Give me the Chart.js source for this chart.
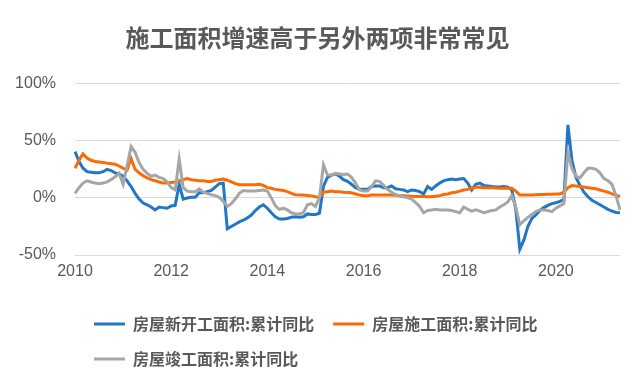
<!DOCTYPE html>
<html>
<head>
<meta charset="utf-8">
<script src="https://cdn.jsdelivr.net/npm/chart.js@4"></script>
<style>
  html, body { margin: 0; padding: 0; background: #ffffff; }
  canvas { display: block; }
</style>
</head>
<body>
<canvas id="c" width="640" height="384"></canvas>
<script>
// ---- Data ----
const titleText = '施工面积增速高于另外两项非常常见';
const seriesNames = ['房屋新开工面积:累计同比', '房屋施工面积:累计同比', '房屋竣工面积:累计同比'];
const yearTickLabels = ['2010', '2012', '2014', '2016', '2018', '2020'];

// monthly categories 2010-01 .. 2021-05
const months = [];
for (let y = 2010; y <= 2021; y++) {
  for (let m = 1; m <= 12; m++) {
    if (y === 2021 && m > 5) break;
    months.push(y + '-' + (m < 10 ? '0' + m : m));
  }
}

const newStarts = [
  40.6, 32, 26, 23, 22.5, 22, 22, 23, 25, 24, 22, 21,
  19, 15, 10, 4, -1, -4.5, -6, -8, -10.5, -8, -8.5, -9,
  -7, -6.5, 12, -1, 0, 0.6, 0.6, 4.5, 4.5, 5.5, 6.5, 9.5,
  12.5, 13, -27, -25, -23, -21, -19.5, -17.5, -15, -11, -8, -6,
  -9, -13, -16.5, -18.5, -18.5, -18, -17, -16.5, -17, -16.5, -14, -14.5,
  -14.5, -13.5, 10, 18, 20, 21, 19, 16, 14.5, 12, 9, 7.6,
  7.6, 7.6, 10, 10.5, 10.5, 9, 9, 10.5, 8, 7.5, 7, 5.5,
  7, 6.5, 5.5, 3.5, 10, 7.5, 10.5, 13, 15, 16, 16.5, 16,
  16.5, 17, 13, 7, 12, 13, 11, 10.5, 10, 9.5, 9.5, 10,
  9.5, 7, -10, -45, -37, -25, -18, -15, -11, -8.5, -6.5, -5,
  -4.2, -3, -1.5, 64, 33, 18, 11, 5, 1, -2, -4, -6,
  -8, -10, -11.5, -12.7, -13
];

const underConstruction = [
  26, 33, 38.5, 35, 33, 32, 31.5, 31, 30.5, 30, 29.5, 28,
  26, 24.5, 34.5, 25, 22, 19.5, 17.5, 16, 15, 14, 13, 13,
  13.5, 14, 14.5, 16, 17, 16, 15.5, 15, 15, 14.5, 14.5, 15.5,
  16, 16.5, 15.5, 14, 12.5, 11.5, 11.5, 11.5, 11.5, 11.5, 12, 11,
  9, 8.5, 7.5, 7, 6.5, 5.5, 4, 2.8, 2.6, 2.6, 2.2, 1.8,
  1, 0.5, 5, 5.5, 6, 5.5, 5.5, 5, 4.8, 4.5, 3.5, 2.5,
  2, 2, 2.5, 2.5, 2.5, 2.5, 2.5, 2.5, 2.3, 2, 2, 1.8,
  1.5, 1.3, 1.2, 1.2, 1, 1, 1.5, 2, 3, 3.5, 4.5, 5,
  6, 7, 7.5, 8.5, 9.3, 9.3, 9, 9, 9, 8.7, 8.5, 8.5,
  8.5, 8.5, 6, 2.6, 2.6, 2.6, 2.6, 2.8, 3, 3, 3.2, 3.3,
  3.4, 3.5, 5, 9, 10.8, 10.5, 10, 9.5, 9, 8.5, 8, 7,
  6, 5, 3.5, 2.5, 1.2
];

const completions = [
  4, 9, 13, 15, 14, 13, 12.5, 13, 14, 16, 18.5, 21.5,
  12, 28, 45, 40, 31, 25, 21.5, 19, 20, 18, 17, 14,
  9, 7, 34, 9, 6, 5.5, 5.5, 8, 5, 4, 2.8, 2,
  0.5, -3, -7.5, -5, -1, 4, 6.5, 6, 6, 6, 6.5, 7,
  6, 0, -7, -10, -9, -10.5, -13, -14, -14, -13, -6, -5,
  -7.5, 0, 29, 20, 20, 21.5, 21, 20.5, 21, 18, 13, 7,
  6, 6, 10, 15, 14.5, 11, 7.5, 5, 3, 1.8, 1, 0.3,
  -1, -4, -7.5, -13, -11, -10.5, -10, -10.5, -10.5, -10.5, -11, -12,
  -13, -8, -10, -11.5, -10.5, -11.5, -13, -12, -11, -10.5, -8, -6,
  -3.5, 2, -8, -23.5, -20, -17, -14.5, -12, -10.5, -10.5, -11, -12,
  -9, -7, -5, 40, 26, 19, 17.5, 22, 26, 26, 25, 22,
  17, 15, 12, 2, -10.5
];

const yTickValues = [-50, 0, 50, 100];

// ---- Styles ----
const colors = ['#1f77c6', '#fb6a05', '#a6a6a6'];
const textColor = '#595959';
const cjk = "'Noto Sans CJK SC', 'Noto Sans', sans-serif";
const latin = "'Liberation Sans', Arial, sans-serif";

const seriesData = [newStarts, underConstruction, completions];
const datasets = seriesData.map((d, i) => ({
  label: seriesNames[i],
  data: d,
  borderColor: colors[i],
  backgroundColor: colors[i],
  borderWidth: 3,
  pointRadius: 0,
  pointHoverRadius: 0,
  tension: 0,
  fill: false,
  order: 3 - i
}));

new Chart(document.getElementById('c'), {
  type: 'line',
  data: { labels: months, datasets: datasets },
  options: {
    responsive: false,
    animation: false,
    devicePixelRatio: 1,
    layout: { padding: { left: 15, right: 20, top: 0, bottom: 7 } },
    plugins: {
      title: {
        display: true,
        text: titleText,
        color: textColor,
        font: { family: cjk, size: 24, weight: 'bold', lineHeight: 1.2 },
        padding: { top: 23, bottom: 32 }
      },
      legend: {
        display: true,
        position: 'bottom',
        align: 'start',
        fullSize: false,
        labels: {
          color: textColor,
          font: { family: cjk, size: 16, weight: 'bold' },
          boxWidth: 31,
          boxHeight: 3,
          padding: 19,
          sort: (a, b) => a.datasetIndex - b.datasetIndex,
          generateLabels: (chart) =>
            Chart.defaults.plugins.legend.labels.generateLabels(chart).map(l => Object.assign({}, l, { fillStyle: l.strokeStyle, lineWidth: 0 }))
        }
      },
      tooltip: { enabled: false }
    },
    scales: {
      x: {
        type: 'category',
        offset: false,
        grid: { display: false, drawTicks: false },
        border: { display: false },
        afterBuildTicks: (axis) => {
          axis.ticks = axis.ticks.filter(t => months[t.value] && yearTickLabels.includes(months[t.value].slice(0, 4)) && months[t.value].slice(5) === '01');
        },
        afterFit: (axis) => { axis.height = 42; },
        ticks: {
          autoSkip: false,
          maxRotation: 0,
          minRotation: 0,
          padding: 7,
          color: textColor,
          font: { family: latin, size: 16 },
          callback: function (value) { return months[value].slice(0, 4); }
        }
      },
      y: {
        min: -50,
        max: 100,
        afterBuildTicks: (axis) => { axis.ticks = yTickValues.map(v => ({ value: v })); },
        afterFit: (axis) => { axis.width = 60; },
        grid: { color: '#d9d9d9', lineWidth: 1, drawTicks: false },
        border: { display: false },
        ticks: {
          padding: 19,
          color: textColor,
          font: { family: latin, size: 16 },
          callback: (v) => v + '%'
        }
      }
    }
  }
});
</script>
</body>
</html>
